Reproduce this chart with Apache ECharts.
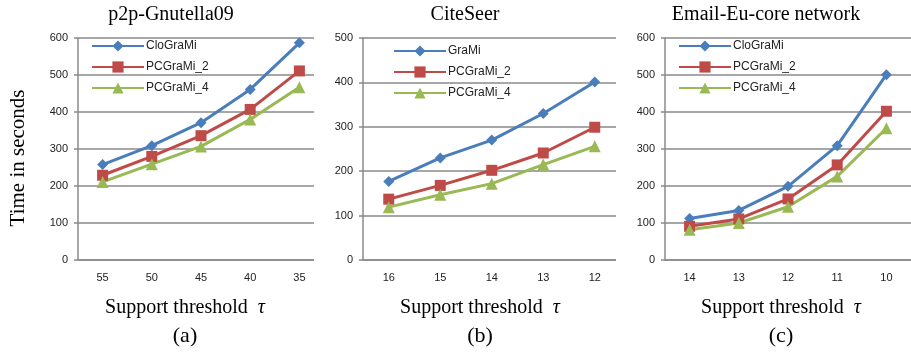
<!DOCTYPE html>
<html>
<head>
<meta charset="utf-8">
<script src="https://cdn.jsdelivr.net/npm/echarts@6/dist/echarts.min.js"></script>
<style>
html,body{margin:0;padding:0;background:#fff;}
#chart{width:911px;height:354px;}
</style>
</head>
<body>
<div id="chart"></div>
<script>
// ---- data ----
const catsA = ['55', '50', '45', '40', '35'];
const catsB = ['16', '15', '14', '13', '12'];
const catsC = ['14', '13', '12', '11', '10'];

const aCloGraMi = [258, 309, 371, 461, 587];
const aPCGraMi2 = [229, 280, 336, 407, 511];
const aPCGraMi4 = [211, 259, 307, 380, 467];

const bGraMi = [177, 230, 270, 330, 401];
const bPCGraMi2 = [137, 168, 202, 241, 299];
const bPCGraMi4 = [119, 147, 172, 215, 256];

const cCloGraMi = [112, 134, 199, 309, 501];
const cPCGraMi2 = [91, 111, 165, 257, 402];
const cPCGraMi4 = [82, 100, 144, 226, 356];

const titles = ['p2p-Gnutella09', 'CiteSeer', 'Email-Eu-core network'];
const panelLabels = ['(a)', '(b)', '(c)'];
const yMax = [600, 500, 600];
const yName = 'Time in seconds';
const xName = 'Support threshold';

// ---- style ----
const BLUE = '#4A7EBB', RED = '#BE4B48', GREEN = '#98B954';
const GRIDC = '#8a8a8a';
const SANS = '"Liberation Sans", Arial, sans-serif';
const SERIF = '"Liberation Serif", "Times New Roman", serif';

const grids = [
  {left: 78, top: 38, width: 246, height: 222},
  {left: 363, top: 38, width: 257.5, height: 222},
  {left: 665, top: 38, width: 252, height: 222}
];
const cats = [catsA, catsB, catsC];

const xAxes = cats.map((c, i) => ({
  type: 'category', gridIndex: i, data: c, boundaryGap: true,
  axisLine: {lineStyle: {color: GRIDC, width: 1.5}},
  axisTick: {length: 4, lineStyle: {color: GRIDC, width: 1.5}},
  axisLabel: {color: '#222', fontFamily: SANS, fontSize: 11, margin: 12}
}));
const yAxes = yMax.map((m, i) => ({
  type: 'value', gridIndex: i, min: 0, max: m, interval: 100,
  axisLine: {show: true, lineStyle: {color: GRIDC, width: 1.5}},
  axisTick: {show: true, length: 4, lineStyle: {color: GRIDC, width: 1.5}},
  splitLine: {lineStyle: {color: GRIDC, width: 1.5}},
  axisLabel: {color: '#222', fontFamily: SANS, fontSize: 11, margin: 10}
}));

function mk(name, data, idx, color, symbol, size) {
  return {
    name: name, type: 'line', xAxisIndex: idx, yAxisIndex: idx, data: data,
    color: color, symbol: symbol, symbolSize: size, showSymbol: true,
    lineStyle: {width: 3, color: color}, itemStyle: {color: color},
    animation: false
  };
}
const series = [
  mk('CloGraMi', aCloGraMi, 0, BLUE, 'diamond', 11),
  mk('PCGraMi_2', aPCGraMi2, 0, RED, 'rect', 11),
  mk('PCGraMi_4', aPCGraMi4, 0, GREEN, 'triangle', 12),
  mk('GraMi', bGraMi, 1, BLUE, 'diamond', 11),
  mk('PCGraMi_2', bPCGraMi2, 1, RED, 'rect', 11),
  mk('PCGraMi_4', bPCGraMi4, 1, GREEN, 'triangle', 12),
  mk('CloGraMi', cCloGraMi, 2, BLUE, 'diamond', 11),
  mk('PCGraMi_2', cPCGraMi2, 2, RED, 'rect', 11),
  mk('PCGraMi_4', cPCGraMi4, 2, GREEN, 'triangle', 12)
];

const legendBase = {
  orient: 'vertical', itemWidth: 52, itemHeight: 14, itemGap: 9,
  textStyle: {fontFamily: SANS, fontSize: 12, color: '#222', padding: [0, 0, 0, -3]},
  selectedMode: false, padding: 0
};
const legends = [
  Object.assign({}, legendBase, {left: 91, top: 40, data: ['CloGraMi', 'PCGraMi_2', 'PCGraMi_4']}),
  Object.assign({}, legendBase, {left: 393, top: 45, data: ['GraMi', 'PCGraMi_2', 'PCGraMi_4']}),
  Object.assign({}, legendBase, {left: 678, top: 40, data: ['CloGraMi', 'PCGraMi_2', 'PCGraMi_4']})
];

const titleX = [171, 465, 766];
const xNameX = [185, 480, 781];
const graphics = [
  // panels overlap: each panel's white background covers the previous one's right edge
  {type: 'rect', shape: {x: 314, y: 28, width: 14, height: 240}, style: {fill: '#ffffff'}, z: 100, zlevel: 0},
  {type: 'rect', shape: {x: 616, y: 28, width: 10, height: 240}, style: {fill: '#ffffff'}, z: 100, zlevel: 0},
  {type: 'text', x: 18, y: 158, rotation: Math.PI / 2,
   style: {text: yName, font: '21px ' + SERIF, fill: '#000', align: 'center', verticalAlign: 'middle'}, z: 100}
];
titles.forEach((t, i) => {
  graphics.push({type: 'text', x: titleX[i], y: 15,
    style: {text: t, font: '20px ' + SERIF, fill: '#000', align: 'center', verticalAlign: 'middle'}, z: 100});
  graphics.push({type: 'text', x: xNameX[i], y: 308,
    style: {text: xName + '  {i|τ}', font: '20px ' + SERIF, fill: '#000', align: 'center', verticalAlign: 'middle',
      rich: {i: {font: 'italic 20px ' + SERIF, fill: '#000'}}}, z: 100});
  graphics.push({type: 'text', x: xNameX[i], y: 336,
    style: {text: panelLabels[i], font: '22px ' + SERIF, fill: '#000', align: 'center', verticalAlign: 'middle'}, z: 100});
});

const chart = echarts.init(document.getElementById('chart'), null, {renderer: 'canvas'});
chart.setOption({
  backgroundColor: '#fff',
  animation: false,
  grid: grids,
  xAxis: xAxes,
  yAxis: yAxes,
  legend: legends,
  series: series,
  graphic: {elements: graphics}
});
</script>
</body>
</html>
